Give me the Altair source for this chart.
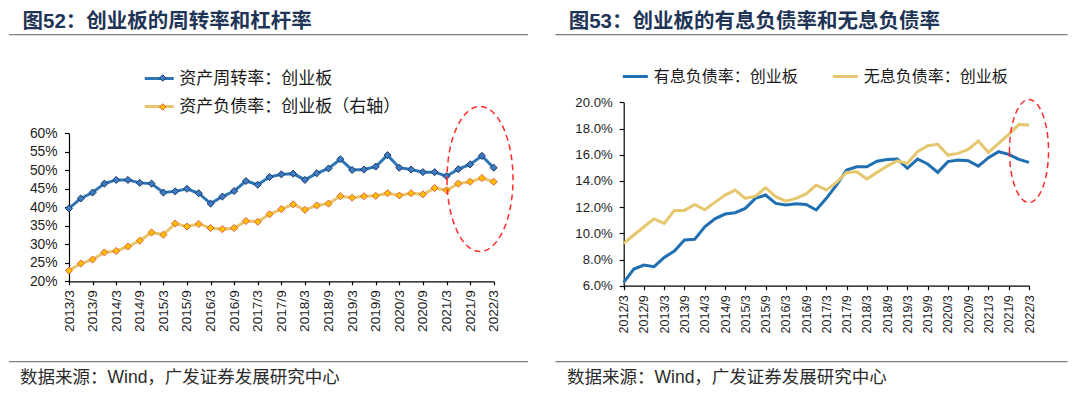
import altair as alt
import pandas as pd

# ---------------- data ----------------
left_quarters = [f"{y}/{m}" for y in range(2013, 2023) for m in (3, 6, 9, 12)][:37]
right_quarters = [f"{y}/{m}" for y in range(2012, 2023) for m in (3, 6, 9, 12)][:41]

left_names = ["资产周转率：创业板", "资产负债率：创业板（右轴）"]
right_names = ["有息负债率：创业板", "无息负债率：创业板"]

turnover = [39.7, 42.4, 44.0, 46.4, 47.4, 47.4, 46.6, 46.4, 44.0, 44.3, 45.0, 43.8,
            41.0, 42.9, 44.4, 47.1, 46.1, 48.2, 48.9, 49.1, 47.4, 49.2, 50.5, 53.0,
            50.1, 50.2, 51.0, 54.1, 50.7, 50.2, 49.5, 49.5, 48.4, 50.3, 51.6, 53.9, 50.7]
leverage = [22.9, 24.8, 25.9, 27.8, 28.2, 29.4, 31.0, 33.2, 32.6, 35.6, 34.8, 35.5,
            34.4, 34.1, 34.4, 36.3, 36.1, 38.1, 39.5, 40.8, 39.3, 40.5, 41.0, 43.0,
            42.6, 43.0, 43.1, 43.8, 43.2, 43.8, 43.5, 45.2, 44.6, 46.4, 46.9, 47.9, 46.9]

interest_debt = [6.25, 7.27, 7.58, 7.45, 8.16, 8.65, 9.49, 9.54, 10.5, 11.1, 11.47, 11.57,
                 11.9, 12.67, 12.92, 12.28, 12.16, 12.26, 12.2, 11.78, 12.67, 13.68, 14.83,
                 15.08, 15.08, 15.5, 15.64, 15.67, 14.96, 15.67, 15.29, 14.65, 15.47, 15.6,
                 15.54, 15.13, 15.77, 16.23, 16.03, 15.64, 15.41]
free_debt = [9.23, 9.87, 10.5, 11.1, 10.76, 11.75, 11.75, 12.2, 11.8, 12.36, 12.92, 13.3,
             12.67, 12.84, 13.48, 12.8, 12.46, 12.67, 13.0, 13.68, 13.3, 13.89, 14.65,
             14.7, 14.14, 14.65, 15.13, 15.54, 15.34, 16.23, 16.69, 16.79, 15.97, 16.1,
             16.4, 17.04, 16.18, 16.87, 17.55, 18.3, 18.26]

left_ticks = [20, 25, 30, 35, 40, 45, 50, 55, 60]
right_ticks = [6, 8, 10, 12, 14, 16, 18, 20]

left_df = pd.DataFrame({
    "q": left_quarters * 2,
    "i": list(range(len(left_quarters))) * 2,
    "v": turnover + leverage,
    "s": [left_names[0]] * len(turnover) + [left_names[1]] * len(leverage),
})
right_df = pd.DataFrame({
    "q": right_quarters * 2,
    "i": list(range(len(right_quarters))) * 2,
    "v": interest_debt + free_debt,
    "s": [right_names[0]] * len(interest_debt) + [right_names[1]] * len(free_debt),
})
one = pd.DataFrame({"k": [0]})

# ---------------- style ----------------
PW, PH = 531, 378
CJK = "Noto Sans CJK SC"
MIX = "Liberation Sans, Noto Sans CJK SC"
LAT = "Liberation Sans"
TITLE_COLOR = "#1F3557"
RULE_COLOR = "#7F7F7F"
SRC_COLOR = "#2B2B2B"


def deco(title, title_x, rule_x1, rule_x2, src_x):
    t = alt.Chart(one).mark_text(text=title, align="left", baseline="middle", font=MIX,
                                 fontSize=20.5, fontWeight="bold", color=TITLE_COLOR
                                 ).encode(x=alt.value(title_x), y=alt.value(13.5))
    r1 = alt.Chart(one).mark_rule(color=RULE_COLOR, strokeWidth=1.2).encode(
        x=alt.value(rule_x1), x2=alt.value(rule_x2), y=alt.value(26.7))
    r2 = alt.Chart(one).mark_rule(color=RULE_COLOR, strokeWidth=1.2).encode(
        x=alt.value(rule_x1), x2=alt.value(rule_x2), y=alt.value(353.7))
    s = alt.Chart(one).mark_text(text="数据来源：Wind，广发证券发展研究中心", align="left",
                                 baseline="middle", font=MIX, fontSize=17.5, color=SRC_COLOR
                                 ).encode(x=alt.value(src_x), y=alt.value(370))
    return [t, r1, r2, s]


def ellipse(cx, cy, rx, ry):
    k = rx / ry
    path = f"M{-k:.3f},0A{k:.3f},1 0 1,0 {k:.3f},0A{k:.3f},1 0 1,0 {-k:.3f},0"
    return alt.Chart(one).mark_point(shape=path, size=(2 * ry) ** 2, filled=False,
                                     stroke="#FF2B2B", strokeWidth=1.5, strokeDash=[6, 4],
                                     opacity=1).encode(x=alt.value(cx), y=alt.value(cy))


# ---------------- left panel ----------------
lx = alt.X("q:O", scale=alt.Scale(type="point", domain=left_quarters, range=[60, 484.7], padding=0),
           axis=alt.Axis(values=[q for q in left_quarters if q.endswith("/3") or q.endswith("/9")],
                         orient="bottom", offset=-104.7, labelAngle=-90, title=None,
                         labelFont=LAT, labelFontSize=13.6, labelColor="#1E1E1E",
                         labelPadding=5, tickSize=3.5, tickColor="black", domainColor="black",
                         domainWidth=1.2, tickWidth=1.2, labelOverlap=False, grid=False))
ly = alt.Y("v:Q", scale=alt.Scale(domain=[20, 60], range=[273.3, 125.3], nice=False, zero=False),
           axis=alt.Axis(values=left_ticks, labelExpr="datum.value + '%'", orient="left",
                         offset=-60, title=None, labelFont=LAT, labelFontSize=13.8,
                         labelColor="#1E1E1E", labelPadding=7.5, tickSize=4.5, tickColor="black",
                         domainColor="black", domainWidth=1.2, tickWidth=1.2, grid=False))

left_line = alt.Chart(left_df).mark_line(strokeWidth=3).encode(
    x=lx, y=ly, order="i:Q",
    color=alt.Color("s:N", scale=alt.Scale(domain=left_names, range=["#2E75B6", "#E9C46A"]),
                    legend=alt.Legend(orient="none", legendX=141.25, legendY=61.5,
                                      direction="vertical", title=None,
                                      symbolType="M-2,0H2", symbolSize=210.25,
                                      symbolStrokeWidth=3, labelFont=CJK, labelFontSize=17,
                                      labelColor="#1A1A1A", labelOffset=10.95, rowPadding=11,
                                      labelLimit=600, padding=0)))
pt_legend = alt.Legend(orient="none", legendX=145.26, legendY=61.5, direction="vertical",
                       title=None, symbolType="diamond", symbolSize=42, symbolStrokeWidth=1,
                       labelFont=CJK, labelFontSize=17, labelOpacity=0, labelOffset=10,
                       rowPadding=11, labelLimit=600, padding=0)
left_pts = alt.Chart(left_df).mark_point(shape="diamond", filled=True, size=50, strokeWidth=1,
                                         opacity=1).encode(
    x=lx, y=ly,
    fill=alt.Fill("s:N", scale=alt.Scale(domain=left_names, range=["#3B7CC4", "#FFC000"]),
                  legend=pt_legend),
    stroke=alt.Stroke("s:N", scale=alt.Scale(domain=left_names, range=["#1F3864", "#E2603F"]),
                      legend=pt_legend))

left = alt.layer(left_line, left_pts, ellipse(471, 171, 33, 72.5),
                 *deco("图52：创业板的周转率和杠杆率", 13.5, 0, 519, 11)
                 ).properties(width=PW, height=PH)

# ---------------- right panel ----------------
rx_ = alt.X("q:O", scale=alt.Scale(type="point", domain=right_quarters, range=[83.7, 489], padding=0),
            axis=alt.Axis(values=[q for q in right_quarters if q.endswith("/3") or q.endswith("/9")],
                          orient="bottom", offset=-100.3, labelAngle=-90, title=None,
                          labelFont=LAT, labelFontSize=12.5, labelColor="#1E1E1E",
                          labelPadding=5, tickSize=4, tickColor="black", domainColor="black",
                          domainWidth=1.2, tickWidth=1.2, labelOverlap=False, grid=False))
ry_ = alt.Y("v:Q", scale=alt.Scale(domain=[6, 20], range=[277.7, 94.3], nice=False, zero=False),
            axis=alt.Axis(values=right_ticks, labelExpr="format(datum.value, '.1f') + '%'",
                          orient="left", offset=-83.7, title=None, labelFont=LAT,
                          labelFontSize=13.2, labelColor="#1E1E1E", labelPadding=7,
                          tickSize=4.5, tickColor="black", domainColor="black",
                          domainWidth=1.2, tickWidth=1.2, grid=False))

right_line = alt.Chart(right_df).mark_line(strokeWidth=3).encode(
    x=rx_, y=ry_, order="i:Q",
    color=alt.Color("s:N", scale=alt.Scale(domain=right_names, range=["#1F6FB2", "#E6C76D"]),
                    legend=alt.Legend(orient="none", legendX=81.3, legendY=54.5,
                                      direction="horizontal", title=None, symbolType="stroke",
                                      symbolSize=625, symbolStrokeWidth=3, labelFont=CJK,
                                      labelFontSize=16, labelColor="#1A1A1A", labelOffset=4.5,
                                      columnPadding=28, labelLimit=600, padding=0)))

right = alt.layer(right_line, ellipse(489, 143, 19.5, 51.5),
                  *deco("图53：创业板的有息负债率和无息负债率", 28.7, 15.5, 527.6, 27)
                  ).properties(width=PW, height=PH)

chart = alt.hconcat(left, right, spacing=0, bounds="flush").properties(
    padding=0
).configure_view(stroke=None, fill="white").resolve_scale(color="independent")

chart.save("out.html", embed_options={"renderer": "svg", "actions": False})
